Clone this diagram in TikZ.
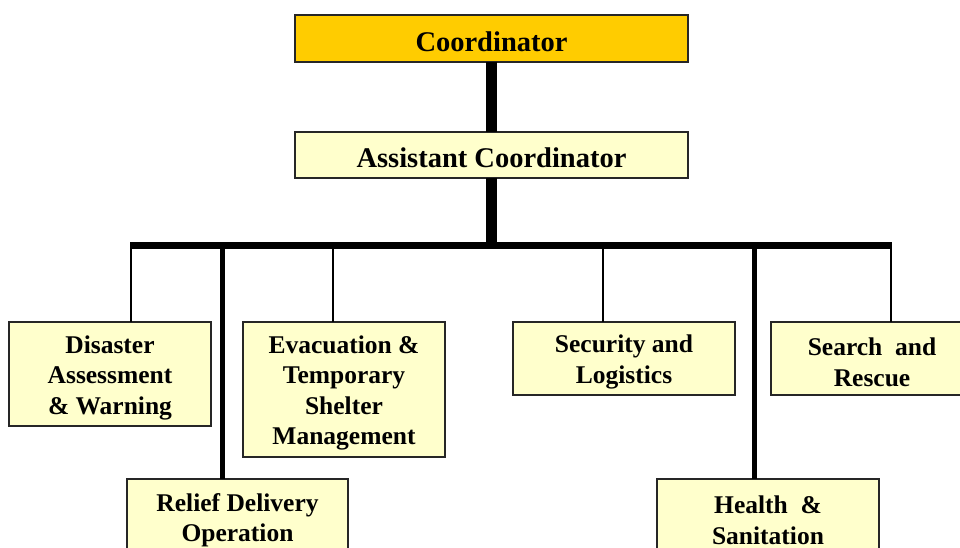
\documentclass[tikz,border=0pt]{standalone}
\usepackage{fontspec}
\setmainfont{Liberation Serif}
\definecolor{gold}{HTML}{FFCC00}
\definecolor{paleyellow}{HTML}{FFFFCC}
\newcommand\myTopStrut{\rule{0pt}{25pt}}
\begin{document}
\begin{tikzpicture}[x=1pt,y=-1pt,
  box/.style={draw=black!85, line width=1.3pt, fill=paleyellow, inner sep=0pt, outer sep=0pt,
    anchor=north west, align=center, font=\fontsize{25.5}{30.5}\selectfont\bfseries},
  topbox/.style={box, font=\fontsize{28.5}{33}\selectfont\bfseries},
  heavy/.style={line width=11pt, draw=black},
  barline/.style={line width=7pt, draw=black},
  medium/.style={line width=5pt, draw=black},
  thin/.style={line width=2pt, draw=black}]
\useasboundingbox (0,0) rectangle (960,548);
\clip (0,0) rectangle (960,548);
\fill[white] (0,0) rectangle (960,548);

% boxes
\node[topbox, fill=gold, minimum width=393pt, minimum height=47pt] (coord) at (295,15) {\rule{0pt}{26pt}Coordinator};
\node[topbox, minimum width=393pt, minimum height=46pt] (asst) at (295,132) {\rule{0pt}{26pt}Assistant Coordinator};
\node[box, minimum width=202pt, minimum height=104pt] (dis) at (9,322) {\myTopStrut Disaster\\Assessment\\\& Warning};
\node[box, minimum width=202pt, minimum height=135pt] (evac) at (243,322) {\myTopStrut Evacuation \&\\Temporary\\Shelter\\Management};
\node[box, minimum width=222pt, minimum height=73pt] (sec) at (513,322) {\myTopStrut Security and\\Logistics};
\node[box, minimum width=202pt, minimum height=73pt] (sar) at (771,322) {\myTopStrut Search\ \ and\\Rescue};
\node[box, minimum width=221pt, minimum height=75pt] (rel) at (127,479) {\myTopStrut Relief Delivery\\Operation};
\node[box, minimum width=222pt, minimum height=75pt] (hea) at (657,479) {\myTopStrut Health\ \ \&\\Sanitation};

% bar coordinates
\coordinate (barL) at (130,245);
\coordinate (barR) at (892,245);
\coordinate (b1) at (131,245);
\coordinate (b2) at (222.5,245);
\coordinate (b3) at (333,245);
\coordinate (b4) at (603,245);
\coordinate (b5) at (754.5,245);
\coordinate (b6) at (891,245);

% connectors
\draw[heavy] (coord.south) -- (asst.north);
\draw[heavy] (asst.south) -- (asst.south |- barL);
\draw[barline] (barL) -- (barR);
\draw[thin] (b1) -- (b1 |- dis.north);
\draw[medium] (b2) -- (b2 |- rel.north);
\draw[thin] (b3) -- (b3 |- evac.north);
\draw[thin] (b4) -- (b4 |- sec.north);
\draw[medium] (b5) -- (b5 |- hea.north);
\draw[thin] (b6) -- (b6 |- sar.north);
\end{tikzpicture}
\end{document}
